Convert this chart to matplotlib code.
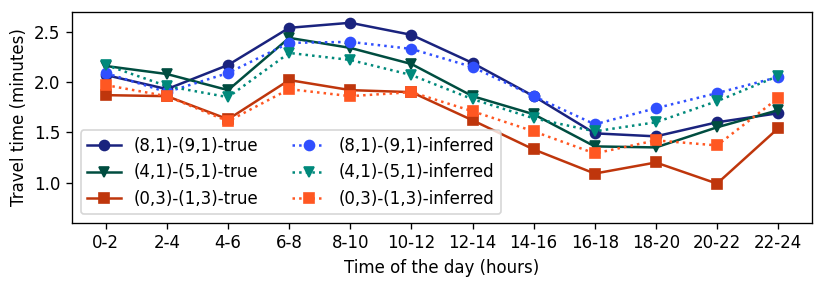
import matplotlib
matplotlib.use("Agg")
import matplotlib.pyplot as plt

# time slots
slots = ["0-2", "2-4", "4-6", "6-8", "8-10", "10-12",
         "12-14", "14-16", "16-18", "18-20", "20-22", "22-24"]

# travel times (minutes)
t81_true = [2.07, 1.93, 2.17, 2.54, 2.59, 2.47, 2.19, 1.86, 1.49, 1.46, 1.60, 1.69]
t41_true = [2.16, 2.08, 1.92, 2.44, 2.34, 2.18, 1.86, 1.68, 1.36, 1.35, 1.55, 1.72]
t03_true = [1.87, 1.86, 1.63, 2.02, 1.92, 1.90, 1.62, 1.33, 1.09, 1.20, 0.99, 1.54]
t81_inf = [2.09, 1.90, 2.09, 2.39, 2.40, 2.33, 2.15, 1.86, 1.58, 1.74, 1.89, 2.05]
t41_inf = [2.17, 1.96, 1.85, 2.29, 2.22, 2.07, 1.83, 1.64, 1.51, 1.60, 1.81, 2.06]
t03_inf = [1.97, 1.86, 1.61, 1.93, 1.86, 1.90, 1.71, 1.51, 1.29, 1.42, 1.37, 1.84]

x = list(range(len(slots)))

dpi = 120
fig = plt.figure(figsize=(830 / dpi, 286 / dpi), dpi=dpi)
ax = fig.add_axes([0.087, 0.221, 0.891, 0.738])

ax.plot(x, t81_true, color="#1a237e", marker="o", linestyle="-", linewidth=1.5, label="(8,1)-(9,1)-true")
ax.plot(x, t41_true, color="#004d40", marker="v", linestyle="-", linewidth=1.5, label="(4,1)-(5,1)-true")
ax.plot(x, t03_true, color="#bf360c", marker="s", linestyle="-", linewidth=1.5, label="(0,3)-(1,3)-true")
ax.plot(x, t81_inf, color="#304ffe", marker="o", linestyle=":", linewidth=1.5, label="(8,1)-(9,1)-inferred")
ax.plot(x, t41_inf, color="#00897b", marker="v", linestyle=":", linewidth=1.5, label="(4,1)-(5,1)-inferred")
ax.plot(x, t03_inf, color="#ff5722", marker="s", linestyle=":", linewidth=1.5, label="(0,3)-(1,3)-inferred")

# Axis formatting
ax.set_xticks(x)
ax.set_xticklabels(slots)
ax.set_ylim(0.6, 2.7)
ax.set_yticks([1.0, 1.5, 2.0, 2.5])
ax.set_xlabel("Time of the day (hours)")
ax.set_ylabel("Travel time (minutes)")
ax.legend(loc="lower left", ncol=2)

plt.savefig("out.png", dpi=dpi)
